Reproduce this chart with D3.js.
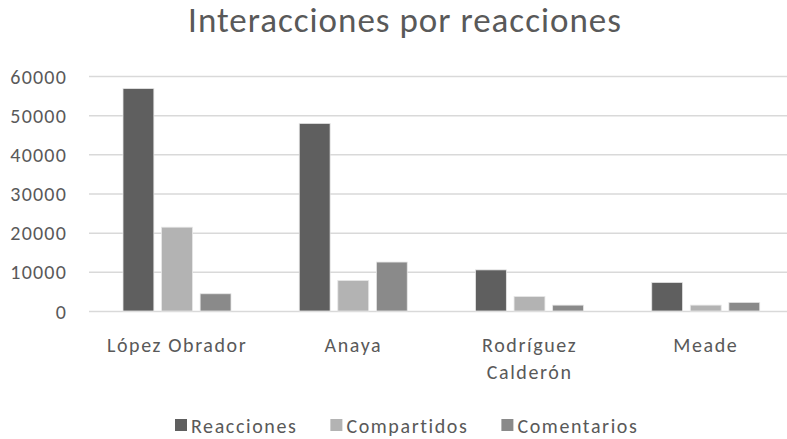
<!DOCTYPE html>
<html>
<head>
<meta charset="utf-8">
<script src="https://cdn.jsdelivr.net/npm/d3@7"></script>
<style>
    body { margin: 0; background: #fff; }
    svg text { font-family: Carlito, Calibri, Lato, sans-serif; fill: #595959; }
</style>
</head>
<body>
<script>
var categories = ["López Obrador", "Anaya", "Rodríguez Calderón", "Meade"];
var seriesNames = ["Reacciones", "Compartidos", "Comentarios"];
var reacciones = [56800, 47900, 10500, 7300];
var compartidos = [21400, 7800, 3700, 1500];
var comentarios = [4400, 12500, 1500, 2200];
var yTicks = [0, 10000, 20000, 30000, 40000, 50000, 60000];
var colors = ["#5f5f5f", "#b3b3b3", "#8a8a8a"];

var width = 787,
    height = 439,
    values = [reacciones, compartidos, comentarios];

var svg = d3.select("body").append("svg")
    .attr("width", width)
    .attr("height", height);

// Scales
var x0 = d3.scaleBand().domain(categories).range([89, 794]);
var x1 = d3.scaleBand().domain(seriesNames).range([34, 142]).paddingInner(0.2);
var y = d3.scaleLinear().domain([0, 60000]).range([311, 76]);

// Title
svg.append("text")
    .attr("x", 405)
    .attr("y", 32)
    .attr("text-anchor", "middle")
    .style("font-size", "35px")
    .style("letter-spacing", "1px")
    .text("Interacciones por reacciones");

// Grid lines
var yAxis = d3.axisLeft(y).tickValues(yTicks).tickSize(-(787 - 89)).tickFormat(d3.format("d")).tickPadding(22);
var gy = svg.append("g").attr("transform", "translate(89,0)").call(yAxis);
gy.select(".domain").remove();
gy.selectAll(".tick line").attr("stroke", "#d9d9d9").attr("stroke-width", 1.5);
gy.selectAll(".tick text").style("font-size", "20px").style("letter-spacing", "1.2px").attr("dy", "0.35em");

// Bars
var groups = svg.selectAll("g.cat").data(categories).enter().append("g")
    .attr("class", "cat")
    .attr("transform", function (d) { return "translate(" + x0(d) + ",0)"; });

groups.selectAll("rect").data(function (d, i) {
    return seriesNames.map(function (s, j) { return { s: s, v: values[j][i], j: j }; });
}).enter().append("rect")
    .attr("x", function (d) { return x1(d.s); })
    .attr("width", x1.bandwidth())
    .attr("y", function (d) { return y(d.v); })
    .attr("height", function (d) { return y(0) - y(d.v); })
    .attr("fill", function (d) { return colors[d.j]; })
    .attr("stroke", "#e6e6e6")
    .attr("stroke-width", 0.8);

// Category labels
var gx = svg.append("g").attr("transform", "translate(0,311)").call(d3.axisBottom(x0).tickSize(0).tickPadding(0));
gx.select(".domain").remove();
gx.selectAll(".tick text").style("font-size", "20px").style("letter-spacing", "1.6px").each(function (d) {
    var t = d3.select(this), words = d.split(" ");
    t.text(null).attr("y", 0).attr("dy", null);
    if (d === "Rodríguez Calderón") {
        t.append("tspan").attr("x", 0).attr("y", 41).text(words[0]);
        t.append("tspan").attr("x", 0).attr("y", 68).text(words[1]);
    } else {
        t.append("tspan").attr("x", 0).attr("y", 41).text(d);
    }
});

// Legend
var legend = svg.append("g");
var lx = 175;
seriesNames.forEach(function (s, i) {
    legend.append("rect")
        .attr("x", lx).attr("y", 419).attr("width", 12).attr("height", 12)
        .attr("fill", colors[i]);
    var t = legend.append("text")
        .attr("x", lx + 16).attr("y", 433)
        .style("font-size", "20px")
        .style("letter-spacing", "1.6px")
        .text(s);
    lx += 16 + t.node().getComputedTextLength() + 33;
});
</script>
</body>
</html>
